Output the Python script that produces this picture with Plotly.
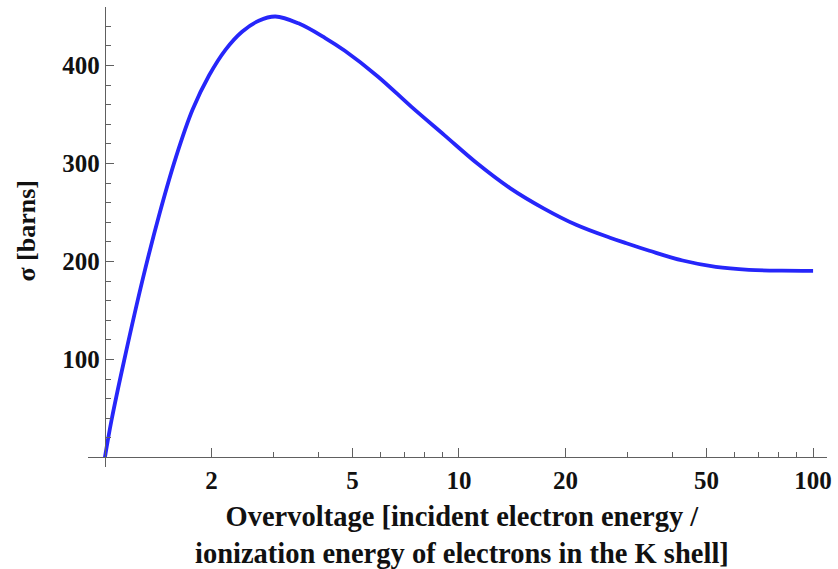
import plotly.graph_objects as go

# K-shell ionization cross section versus overvoltage
overvoltage = [1.0, 1.044, 1.135, 1.281, 1.427, 1.589, 1.769, 1.97, 2.19, 2.44,
               2.72, 3.03, 3.52, 4.19, 4.76, 5.91, 7.33, 9.09, 11.27, 13.97,
               17.33, 21.5, 26.7, 29.7, 34.5, 42.8, 53.1, 65.9, 81.7, 100.0]
sigma_barns = [0, 38, 100, 183, 249, 307, 355, 390, 416, 434.5,
               445.7, 450, 443, 428, 415, 388.6, 358, 329, 300, 274.7,
               254.3, 237.2, 224.3, 218.6, 211, 201, 194.5, 191.5, 190.6, 190.5]

x_major = [2, 5, 10, 20, 50, 100]
x_minor = [3, 4, 6, 7, 8, 9, 30, 40, 60, 70, 80, 90]
y_major = [100, 200, 300, 400]
y_minor = [20, 40, 60, 80, 120, 140, 160, 180, 220, 240, 260, 280,
           320, 340, 360, 380, 420, 440]

x_title = "Overvoltage [incident electron energy /<br>ionization energy of electrons in the K shell]"
y_title = "σ [barns]"

serif = "Liberation Serif"
axis_grey = "#606060"
ink = "#111111"

fig = go.Figure()
fig.add_trace(go.Scatter(
    x=overvoltage, y=sigma_barns, mode="lines",
    line=dict(color="rgb(38,38,250)", width=3.8, shape="spline", smoothing=1.0),
    hoverinfo="skip", showlegend=False,
))

tick_font = dict(family=serif, size=25, weight=700, color=ink)

fig.update_layout(
    width=838, height=569,
    margin=dict(l=88, r=6, t=7, b=102),
    paper_bgcolor="white", plot_bgcolor="white",
    font=dict(family=serif, color=ink),
    xaxis=dict(
        type="log", range=[-0.0477, 2.0393],
        anchor="free", position=0.0207,
        showgrid=False, zeroline=False,
        showline=True, linecolor=axis_grey, linewidth=1.2,
        tickmode="array", tickvals=x_major, ticktext=[str(v) for v in x_major],
        ticks="inside", ticklen=9, tickwidth=1.2, tickcolor=axis_grey,
        tickfont=tick_font,
        minor=dict(tickmode="array", tickvals=x_minor, ticks="inside",
                   ticklen=5, tickwidth=1, tickcolor=axis_grey, showgrid=False),
    ),
    yaxis=dict(
        range=[-9.7, 459.7],
        anchor="free", position=0.0229,
        showgrid=False, zeroline=False,
        showline=True, linecolor=axis_grey, linewidth=1.2,
        tickmode="array", tickvals=y_major, ticktext=[str(v) for v in y_major],
        ticks="inside", ticklen=8, tickwidth=1.2, tickcolor=axis_grey,
        tickfont=tick_font,
        minor=dict(tickmode="array", tickvals=y_minor, ticks="inside",
                   ticklen=5, tickwidth=1, tickcolor=axis_grey, showgrid=False),
    ),
    annotations=[
        dict(text=x_title, xref="paper", yref="paper", x=0.5067, y=-0.0685,
             xanchor="center", yanchor="top", showarrow=False,
             font=dict(family=serif, size=28.5, weight=700, color=ink)),
        dict(text=y_title, xref="paper", yref="paper", x=-0.0833, y=0.515,
             xanchor="center", yanchor="middle", textangle=-90, showarrow=False,
             font=dict(family=serif, size=26, weight=700, color=ink)),
    ],
)

fig.write_html("out.html")
